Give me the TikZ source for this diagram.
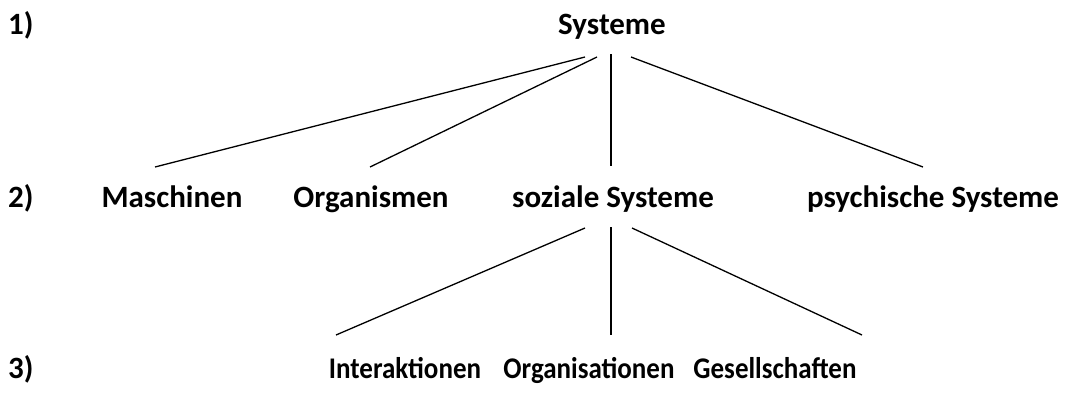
\documentclass[tikz,border=0pt]{standalone}
\usepackage{fontspec}
\setmainfont{Carlito}
\begin{document}
\begin{tikzpicture}[x=1pt,y=-1pt,
  lbl/.style={font=\fontsize{31}{36}\selectfont\bfseries, inner sep=0pt, anchor=base},
  lblnarrow/.style={font=\fontsize{30}{36}\selectfont\bfseries\addfontfeatures{FakeStretch=0.9}, inner sep=0pt, anchor=base},
  edge/.style={line width=1.3pt}]
\useasboundingbox (0,0) rectangle (1068,392);
% level markers
\node[lbl, anchor=base west] (l1) at (8,34) {1)};
\node[lbl, anchor=base west] (l2) at (8,207) {2)};
\node[lbl, anchor=base west] (l3) at (8,378) {3)};
% level 1
\node[lbl] (sys) at (612,34) {Systeme};
% level 2
\node[lbl] (mas) at (172,207) {Maschinen};
\node[lbl] (org) at (371,207) {Organismen};
\node[lbl] (soz) at (613,207) {soziale Systeme};
\node[lbl] (psy) at (933,207) {psychische Systeme};
% level 3
\node[lblnarrow] (int) at (405,378) {Interaktionen};
\node[lblnarrow] (ors) at (589,378) {Organisationen};
\node[lblnarrow] (ges) at (775,378) {Gesellschaften};
% connector ends
\coordinate (s1) at (585,57);
\coordinate (s2) at (597,57);
\coordinate (s3) at (611,54);
\coordinate (s4) at (631,57);
\coordinate (m1) at (155,167);
\coordinate (o1) at (370,167);
\coordinate (z1) at (611,166);
\coordinate (p1) at (923,167);
\coordinate (z2) at (585,228);
\coordinate (z3) at (611,227);
\coordinate (z4) at (632,228);
\coordinate (i1) at (336,335);
\coordinate (r1) at (611,335);
\coordinate (g1) at (862,335);
\draw[edge] (s1) -- (m1);
\draw[edge] (s2) -- (o1);
\draw[edge] (s3) -- (z1);
\draw[edge] (s4) -- (p1);
\draw[edge] (z2) -- (i1);
\draw[edge] (z3) -- (r1);
\draw[edge] (z4) -- (g1);
\end{tikzpicture}
\end{document}
